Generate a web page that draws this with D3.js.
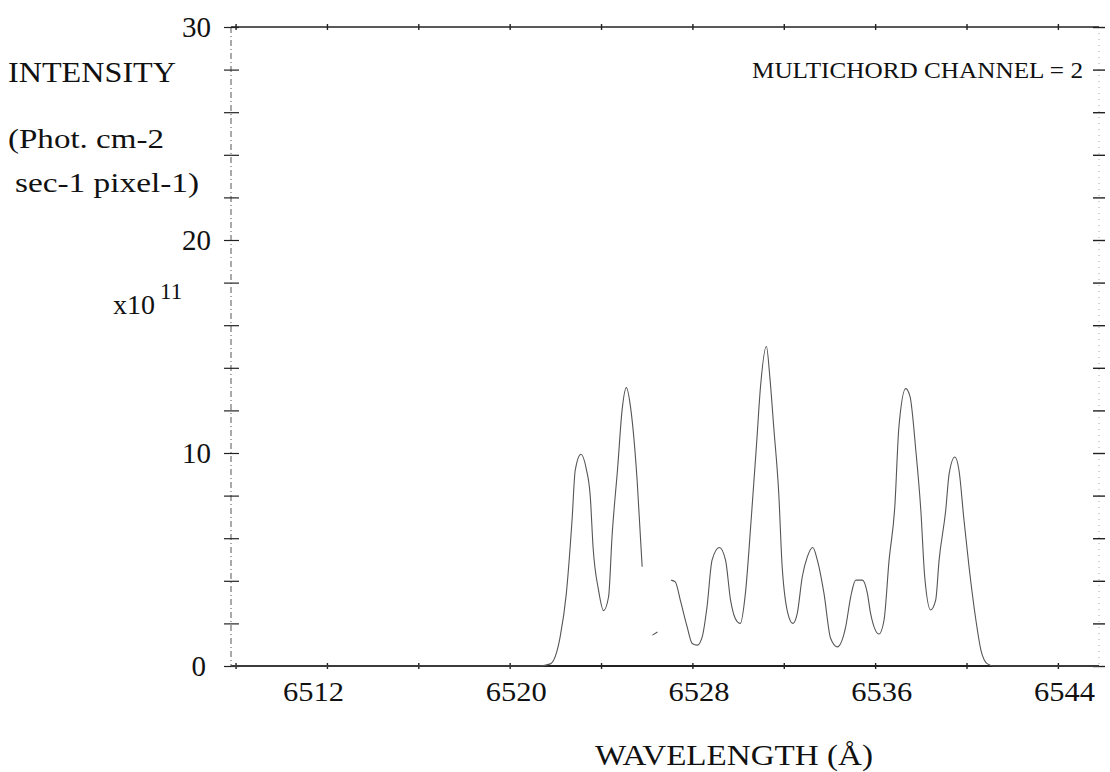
<!DOCTYPE html>
<html>
<head>
<meta charset="utf-8">
<script src="https://cdn.jsdelivr.net/npm/d3@7"></script>
<style>
body { margin:0; background:#fff; }
svg text { font-family:"Liberation Serif","DejaVu Serif",serif; fill:#111; }
</style>
</head>
<body>
<div id="chart"></div>
<script>
// spectrum, wavelength in A, intensity in 1e11 units
var wave1 = [6507.8, 6521.3, 6521.78, 6522.21, 6522.48, 6522.73, 6522.87, 6523.12, 6523.35, 6523.53, 6523.65, 6523.89, 6524.11, 6524.33, 6524.48, 6524.73, 6524.92, 6525.11, 6525.31, 6525.58, 6525.80];
var inten1 = [0, 0, 0.1, 1.37, 3.4, 6.84, 9.19, 9.94, 9.27, 7.94, 5.6, 3.56, 2.6, 3.25, 6.06, 9.34, 12.0, 13.07, 12.0, 8.72, 4.66];

var wave2 = [6526.25, 6526.47];
var inten2 = [1.45, 1.6];

var wave3 = [6527.07, 6527.25, 6527.47, 6527.77, 6527.99, 6528.21, 6528.43, 6528.64, 6528.86, 6529.18, 6529.45, 6529.67, 6529.96, 6530.10, 6530.32, 6530.57, 6530.81, 6530.98, 6531.24, 6531.39, 6531.56, 6531.78, 6531.93, 6532.22, 6532.40, 6532.59, 6532.81, 6533.03, 6533.27, 6533.47, 6533.76, 6534.05, 6534.34, 6534.71, 6534.93, 6535.15, 6535.44, 6535.66, 6535.80, 6536.17, 6536.39, 6536.61, 6536.86, 6537.04, 6537.34, 6537.53, 6537.78, 6538.00, 6538.17, 6538.43, 6538.65, 6538.80, 6539.09, 6539.24, 6539.49, 6539.67, 6539.89, 6540.11, 6540.41, 6540.63, 6540.92, 6541.21, 6545.8];
var inten3 = [4.03, 3.95, 3.09, 1.84, 1.06, 0.98, 1.37, 2.78, 4.97, 5.56, 4.97, 3.09, 2.08, 2.0, 3.41, 6.84, 10.44, 13.1, 15.0, 13.56, 11.22, 8.1, 4.66, 2.31, 2.0, 2.47, 4.19, 5.12, 5.56, 4.97, 3.41, 1.3, 0.9, 1.84, 3.25, 4.03, 4.03, 3.41, 2.47, 1.5, 2.16, 4.97, 7.47, 11.22, 13.02, 12.63, 10.13, 7.31, 4.19, 2.63, 3.09, 4.97, 7.31, 9.03, 9.81, 9.19, 6.84, 4.66, 2.16, 0.75, 0.1, 0, 0];

var xTicks = [6508, 6512, 6516, 6520, 6524, 6528, 6532, 6536, 6540, 6544];
var xLabels = [6512, 6520, 6528, 6536, 6544];
var yTicks = [0, 2, 4, 6, 8, 10, 12, 14, 16, 18, 20, 22, 24, 26, 28, 30];
var yLabels = [0, 10, 20, 30];

var W = 1110, H = 772;
var pLeft = 231, pRight = 1099, pTop = 27, pBottom = 666;

var svg = d3.select("#chart").append("svg")
	.attr("width", W)
	.attr("height", H);

var x = d3.scaleLinear().domain([6507.8, 6545.8]).range([pLeft, pRight]);
var y = d3.scaleLinear().domain([0, 30]).range([pBottom, pTop]);

//Frame: solid top and bottom, broken left, faint right
svg.append("line")
	.attr("x1", pLeft).attr("x2", pRight).attr("y1", pTop).attr("y2", pTop)
	.attr("stroke", "#222").attr("stroke-width", 1.6);
svg.append("line")
	.attr("x1", pLeft).attr("x2", pRight).attr("y1", pBottom).attr("y2", pBottom)
	.attr("stroke", "#222").attr("stroke-width", 1.8);
svg.append("line")
	.attr("x1", pLeft).attr("x2", pLeft).attr("y1", pTop).attr("y2", pBottom)
	.attr("stroke", "#555").attr("stroke-width", 1)
	.attr("stroke-dasharray", "6,3,1,3");
svg.append("line")
	.attr("x1", pRight).attr("x2", pRight).attr("y1", pTop).attr("y2", pBottom)
	.attr("stroke", "#aaa").attr("stroke-width", 1)
	.attr("stroke-dasharray", "1,5");

//X axis
var xAxis = d3.axisBottom(x)
	.tickValues(xTicks)
	.tickSize(0)
	.tickFormat(function(d){ return xLabels.indexOf(d) >= 0 ? d : ""; });
var gx = svg.append("g")
	.attr("transform", "translate(0," + pBottom + ")")
	.call(xAxis);
gx.select(".domain").remove();
gx.selectAll(".tick line").attr("y1", -3).attr("y2", 3).attr("stroke", "#222").attr("stroke-width", 1.4);
gx.selectAll(".tick text")
	.filter(function(d){ return xLabels.indexOf(d) >= 0; })
	.attr("y", 15)
	.attr("dx", function(d){ return d == xLabels[0] ? -14 : 6; })
	.attr("textLength", 61)
	.attr("lengthAdjust", "spacingAndGlyphs")
	.style("font-size", "28px")
	.style("font-family", "'Liberation Serif', serif")
	.attr("fill", "#111");

// top axis, ticks only
var gxt = svg.append("g")
	.attr("transform", "translate(0," + pTop + ")")
	.call(d3.axisTop(x).tickValues(xTicks).tickSize(0).tickFormat(""));
gxt.select(".domain").remove();
gxt.selectAll(".tick line").attr("y1", -3).attr("y2", 3).attr("stroke", "#222").attr("stroke-width", 1.4);

//Y axis
var yAxis = d3.axisLeft(y)
	.tickValues(yTicks)
	.tickSize(0)
	.tickFormat(function(d){ return yLabels.indexOf(d) >= 0 ? d : ""; });
var gy = svg.append("g")
	.attr("transform", "translate(" + pLeft + ",0)")
	.call(yAxis);
gy.select(".domain").remove();
gy.selectAll(".tick line").attr("x1", -7).attr("x2", 8).attr("stroke", "#222").attr("stroke-width", 1.2);
gy.selectAll(".tick text")
	.attr("x", function(d){ return d == 0 ? -25 : -20; })
	.style("font-size", "29px")
	.style("font-family", "'Liberation Serif', serif")
	.attr("fill", "#111");

var gyr = svg.append("g")
	.attr("transform", "translate(" + pRight + ",0)")
	.call(d3.axisRight(y).tickValues(yTicks).tickSize(0).tickFormat(""));
gyr.select(".domain").remove();
gyr.selectAll(".tick line").attr("x1", -6).attr("x2", 6).attr("stroke", "#222").attr("stroke-width", 1.4);

//Spectrum
var line = d3.line()
	.x(function(d){ return x(d[0]); })
	.y(function(d){ return y(d[1]); })
	.curve(d3.curveMonotoneX);

[[wave1, inten1], [wave2, inten2], [wave3, inten3]].forEach(function(s){
	var pts = d3.zip(s[0], s[1]);
	svg.append("path")
		.datum(pts)
		.attr("fill", "none")
		.attr("stroke", "#555")
		.attr("stroke-width", 1.1)
		.attr("d", line);
});

//Labels
svg.append("text").attr("x", 8).attr("y", 82)
	.style("font-size", "29px").attr("textLength", 168).attr("lengthAdjust", "spacingAndGlyphs")
	.text("INTENSITY");
svg.append("text").attr("x", 8).attr("y", 148)
	.style("font-size", "28px").attr("textLength", 156).attr("lengthAdjust", "spacingAndGlyphs")
	.text("(Phot. cm-2");
svg.append("text").attr("x", 15).attr("y", 192)
	.style("font-size", "28px").attr("textLength", 184).attr("lengthAdjust", "spacingAndGlyphs")
	.text("sec-1 pixel-1)");
var ex = svg.append("text").attr("x", 113).attr("y", 314).style("font-size", "28px");
ex.append("tspan").text("x10");
ex.append("tspan").attr("dx", 5).attr("dy", -15).style("font-size", "23px").text("11");

svg.append("text").attr("x", 1083).attr("y", 78)
	.attr("text-anchor", "end")
	.style("font-size", "23px").attr("textLength", 331).attr("lengthAdjust", "spacingAndGlyphs")
	.text("MULTICHORD CHANNEL = 2");
svg.append("text").attr("x", 595).attr("y", 765)
	.style("font-size", "30px").attr("textLength", 278).attr("lengthAdjust", "spacingAndGlyphs")
	.text("WAVELENGTH  (\u00C5)");
</script>
</body>
</html>
